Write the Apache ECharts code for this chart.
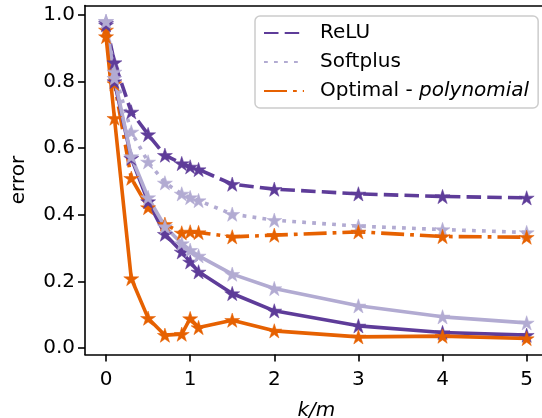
<!DOCTYPE html>
<html>
<head>
<meta charset="utf-8">
<script src="https://cdn.jsdelivr.net/npm/echarts@6/dist/echarts.min.js"></script>
<style>
html,body{margin:0;padding:0;background:#fff;}
#chart{width:542px;height:418px;}
</style>
</head>
<body>
<div id="chart"></div>
<script>
// ---- data ----
const kOverM = [0, 0.1, 0.3, 0.5, 0.7, 0.9, 1.0, 1.1, 1.5, 2, 3, 4, 5];
const reluDashed     = [0.975, 0.857, 0.709, 0.641, 0.579, 0.554, 0.544, 0.536, 0.492, 0.477, 0.463, 0.455, 0.451];
const softplusDotted = [0.981, 0.829, 0.649, 0.559, 0.496, 0.463, 0.452, 0.443, 0.402, 0.384, 0.366, 0.356, 0.347];
const optimalDashDot = [0.955, 0.794, 0.510, 0.422, 0.372, 0.346, 0.349, 0.347, 0.334, 0.339, 0.349, 0.335, 0.333];
const reluSolid      = [0.970, 0.800, 0.570, 0.440, 0.342, 0.289, 0.259, 0.229, 0.164, 0.112, 0.067, 0.047, 0.039];
const softplusSolid  = [0.980, 0.810, 0.575, 0.452, 0.365, 0.314, 0.294, 0.277, 0.222, 0.179, 0.127, 0.094, 0.076];
const optimalSolid   = [0.935, 0.690, 0.209, 0.090, 0.039, 0.042, 0.089, 0.062, 0.084, 0.052, 0.034, 0.036, 0.029];
const xTicks = [0, 1, 2, 3, 4, 5];
const yTicks = [0, 0.2, 0.4, 0.6, 0.8, 1.0];
const legendNames = ['ReLU', 'Softplus', 'Optimal - polynomial'];

// ---- style ----
const C_DARK = '#5e3c99', C_LIGHT = '#b2abd2', C_ORANGE = '#e66101';
const LW = 3.6;
const FONT = 'DejaVu Sans';
const FS = 20;

function starPath() {
  const pts = [];
  for (let i = 0; i < 10; i++) {
    const a = (-90 + i * 36) * Math.PI / 180;
    const r = i % 2 === 0 ? 1 : 0.382;
    pts.push((r * Math.cos(a)).toFixed(4) + ' ' + (r * Math.sin(a)).toFixed(4));
  }
  return 'path://M' + pts.join(' L') + ' Z';
}
const STAR = starPath();

function pairs(ys) { return kOverM.map((x, i) => [x, ys[i]]); }

function mkSeries(name, ys, color, dash) {
  return {
    name: name,
    type: 'line',
    data: pairs(ys),
    symbol: STAR,
    symbolSize: 15,
    symbolKeepAspect: true,
    showSymbol: true,
    clip: false,
    animation: false,
    itemStyle: { color: color, borderColor: color, borderWidth: 0.5 },
    lineStyle: { color: color, width: LW, type: dash, cap: 'butt' },
    emphasis: { disabled: true }
  };
}

const chart = echarts.init(document.getElementById('chart'), null, { renderer: 'canvas' });
chart.setOption({
  animation: false,
  backgroundColor: '#fff',
  textStyle: { fontFamily: FONT },
  grid: {
    left: 85, top: 5.5, width: 462.7, height: 349,
    outerBoundsMode: 'none', containLabel: false,
    show: false
  },
  legend: {
    data: legendNames,
    orient: 'vertical',
    left: 255, top: 16,
    padding: [7, 9, 7, 8],
    itemWidth: 40, itemHeight: 14, itemGap: 9,
    backgroundColor: 'rgba(255,255,255,0.85)',
    borderColor: '#cccccc', borderWidth: 1.5, borderRadius: 5,
    itemStyle: { opacity: 0 },
    selectedMode: false,
    formatter: function (name) {
      if (name === 'Optimal - polynomial') return '{n|Optimal - }{i|polynomial}';
      return '{n|' + name + '}';
    },
    textStyle: {
      fontFamily: FONT, fontSize: FS, color: '#000', padding: [0, 0, 0, 11],
      rich: {
        n: { fontFamily: FONT, fontSize: FS, color: '#000', lineHeight: 21 },
        i: { fontFamily: FONT, fontSize: FS, color: '#000', fontStyle: 'italic', lineHeight: 21 }
      }
    }
  },
  xAxis: [{
    type: 'value', min: -0.25, max: 5.25, position: 'bottom',
    name: 'k/m', nameLocation: 'middle', nameGap: 46,
    nameTextStyle: { fontFamily: FONT, fontSize: FS, fontStyle: 'italic', color: '#000' },
    axisLine: { show: true, onZero: false, lineStyle: { color: '#000', width: 1.6 } },
    axisTick: { show: true, inside: false, length: 7, lineStyle: { color: '#000', width: 1.6 }, customValues: xTicks },
    axisLabel: { show: true, margin: 15, fontFamily: FONT, fontSize: FS, color: '#000', customValues: xTicks,
                 formatter: v => String(v) },
    splitLine: { show: false }
  }, {
    type: 'value', min: -0.25, max: 5.25, position: 'top',
    axisLine: { show: true, onZero: false, lineStyle: { color: '#000', width: 1.6 } },
    axisTick: { show: false }, axisLabel: { show: false }, splitLine: { show: false }
  }],
  yAxis: {
    type: 'value', min: -0.019, max: 1.028,
    name: 'error', nameLocation: 'middle', nameGap: 56,
    nameTextStyle: { fontFamily: FONT, fontSize: FS, color: '#000' },
    axisLine: { show: true, onZero: false, lineStyle: { color: '#000', width: 1.6 } },
    axisTick: { show: true, inside: false, length: 7, lineStyle: { color: '#000', width: 1.6 }, customValues: yTicks },
    axisLabel: { show: true, margin: 10, fontFamily: FONT, fontSize: FS, color: '#000', customValues: yTicks,
                 formatter: v => v.toFixed(1) },
    splitLine: { show: false }
  },
  series: [
    mkSeries('ReLU', reluDashed, C_DARK, [14.5, 6.2]),
    mkSeries('Softplus', softplusDotted, C_LIGHT, [3.8, 6.2]),
    mkSeries('Optimal - polynomial', optimalDashDot, C_ORANGE, [23, 6, 3.8, 6]),
    mkSeries('ReLU (solid)', reluSolid, C_DARK, 'solid'),
    mkSeries('Softplus (solid)', softplusSolid, C_LIGHT, 'solid'),
    mkSeries('Optimal (solid)', optimalSolid, C_ORANGE, 'solid')
  ]
});
</script>
</body>
</html>
